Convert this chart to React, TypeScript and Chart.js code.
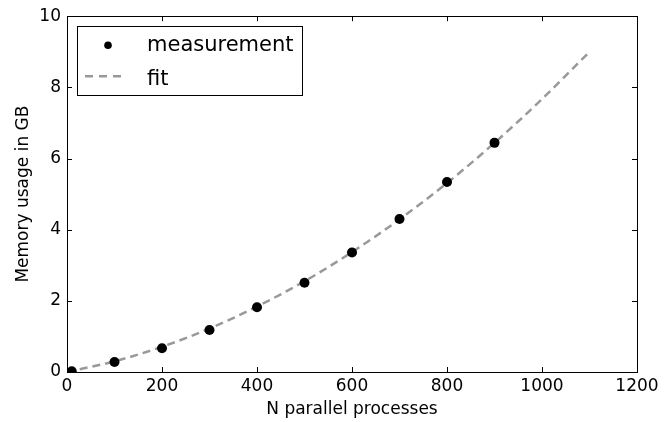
import React, { useEffect, useRef } from "react";
import { Chart, registerables } from "chart.js";

Chart.register(...registerables);

const measX = [10, 100, 200, 300, 400, 500, 600, 700, 800, 900];
const measY = [0.02, 0.28, 0.67, 1.18, 1.82, 2.51, 3.36, 4.3, 5.34, 6.44];
const fitX = [0, 100, 200, 300, 400, 500, 600, 700, 800, 900, 1000, 1100];
const fitY = [0, 0.3, 0.71, 1.22, 1.84, 2.55, 3.37, 4.29, 5.31, 6.44, 7.67, 9.0];
const xTicks = [0, 200, 400, 600, 800, 1000, 1200];
const yTicks = [0, 2, 4, 6, 8, 10];
const legendLabels = ["measurement", "fit"];
const xTitle = "N parallel processes";
const yTitle = "Memory usage in GB";

const FONT = "'DejaVu Sans', 'Liberation Sans', sans-serif";

const frameAndLegend = {
  id: "frameAndLegend",
  afterDraw(chart: any) {
    const { ctx, chartArea } = chart;
    const { left, right, top, bottom } = chartArea;
    const xs = chart.scales.x;
    const ys = chart.scales.y;
    ctx.save();
    ctx.strokeStyle = "#000";
    ctx.lineWidth = 1;
    ctx.strokeRect(Math.round(left) + 0.5, Math.round(top) + 0.5, Math.round(right - left), Math.round(bottom - top));
    const tl = 5;
    ctx.beginPath();
    xTicks.forEach((v) => {
      const px = Math.round(xs.getPixelForValue(v)) + 0.5;
      ctx.moveTo(px, bottom);
      ctx.lineTo(px, bottom - tl);
      ctx.moveTo(px, top);
      ctx.lineTo(px, top + tl);
    });
    yTicks.forEach((v) => {
      const py = Math.round(ys.getPixelForValue(v)) + 0.5;
      ctx.moveTo(left, py);
      ctx.lineTo(left + tl, py);
      ctx.moveTo(right, py);
      ctx.lineTo(right - tl, py);
    });
    ctx.stroke();

    const bx = Math.round(left) + 10.5;
    const by = Math.round(top) + 10.5;
    const bw = 225;
    const bh = 69;
    ctx.fillStyle = "#fff";
    ctx.fillRect(bx, by, bw, bh);
    ctx.strokeStyle = "#000";
    ctx.strokeRect(bx, by, bw, bh);

    ctx.fillStyle = "#000";
    ctx.beginPath();
    ctx.arc(left + 41, top + 29, 3.8, 0, Math.PI * 2);
    ctx.fill();

    ctx.strokeStyle = "#999999";
    ctx.lineWidth = 2.5;
    ctx.setLineDash([8, 6]);
    ctx.beginPath();
    ctx.moveTo(left + 18, top + 60);
    ctx.lineTo(left + 57, top + 60);
    ctx.stroke();
    ctx.setLineDash([]);

    ctx.fillStyle = "#000";
    ctx.font = `21px ${FONT}`;
    ctx.textBaseline = "alphabetic";
    ctx.textAlign = "left";
    ctx.fillText(legendLabels[0], left + 80, top + 34.5);
    ctx.fillText(legendLabels[1], left + 80, top + 68.5);
    ctx.restore();
  },
};

export default function App() {
  const ref = useRef<HTMLCanvasElement | null>(null);
  useEffect(() => {
    document.body.style.margin = "0";
    const canvas = ref.current;
    if (!canvas) return;
    const chart = new Chart(canvas, {
      type: "scatter",
      data: {
        datasets: [
          {
            label: legendLabels[0],
            data: measX.map((x, i) => ({ x, y: measY[i] })),
            showLine: false,
            backgroundColor: "#000",
            borderColor: "#000",
            pointRadius: 5,
            borderWidth: 0,
          },
          {
            label: legendLabels[1],
            data: fitX.map((x, i) => ({ x, y: fitY[i] })),
            showLine: true,
            borderColor: "#999999",
            borderWidth: 2.5,
            borderDash: [8, 5],
            pointRadius: 0,
            cubicInterpolationMode: "monotone",
            fill: false,
          },
        ],
      },
      options: {
        responsive: false,
        animation: false,
        layout: { padding: { top: 15, right: 34, left: 0, bottom: 0 } },
        plugins: { legend: { display: false }, tooltip: { enabled: false } },
        scales: {
          x: {
            type: "linear",
            min: 0,
            max: 1200,
            afterBuildTicks: (s: any) => {
              s.ticks = xTicks.map((v) => ({ value: v }));
            },
            afterFit: (s: any) => {
              s.height = 50;
            },
            ticks: {
              color: "#000",
              font: { family: FONT, size: 17 },
              padding: 4,
              maxRotation: 0,
              autoSkip: false,
              callback: (v: any) => String(v),
            },
            grid: { drawOnChartArea: false, drawTicks: false },
            border: { display: false },
            title: {
              display: true,
              text: xTitle,
              color: "#000",
              font: { family: FONT, size: 17 },
              padding: { top: 0, bottom: 2.5 },
            },
          },
          y: {
            type: "linear",
            min: 0,
            max: 10,
            afterBuildTicks: (s: any) => {
              s.ticks = yTicks.map((v) => ({ value: v }));
            },
            afterFit: (s: any) => {
              s.width = 67;
            },
            ticks: {
              color: "#000",
              font: { family: FONT, size: 17 },
              padding: 6,
              autoSkip: false,
              callback: (v: any) => String(v),
            },
            grid: { drawOnChartArea: false, drawTicks: false },
            border: { display: false },
            title: {
              display: true,
              text: yTitle,
              color: "#000",
              font: { family: FONT, size: 17 },
              padding: { top: 13, bottom: 0 },
            },
          },
        },
      },
      plugins: [frameAndLegend],
    });
    return () => chart.destroy();
  }, []);
  return (
    <canvas
      ref={ref}
      width={671}
      height={422}
      style={{ display: "block", width: 671, height: 422 }}
    />
  );
}
